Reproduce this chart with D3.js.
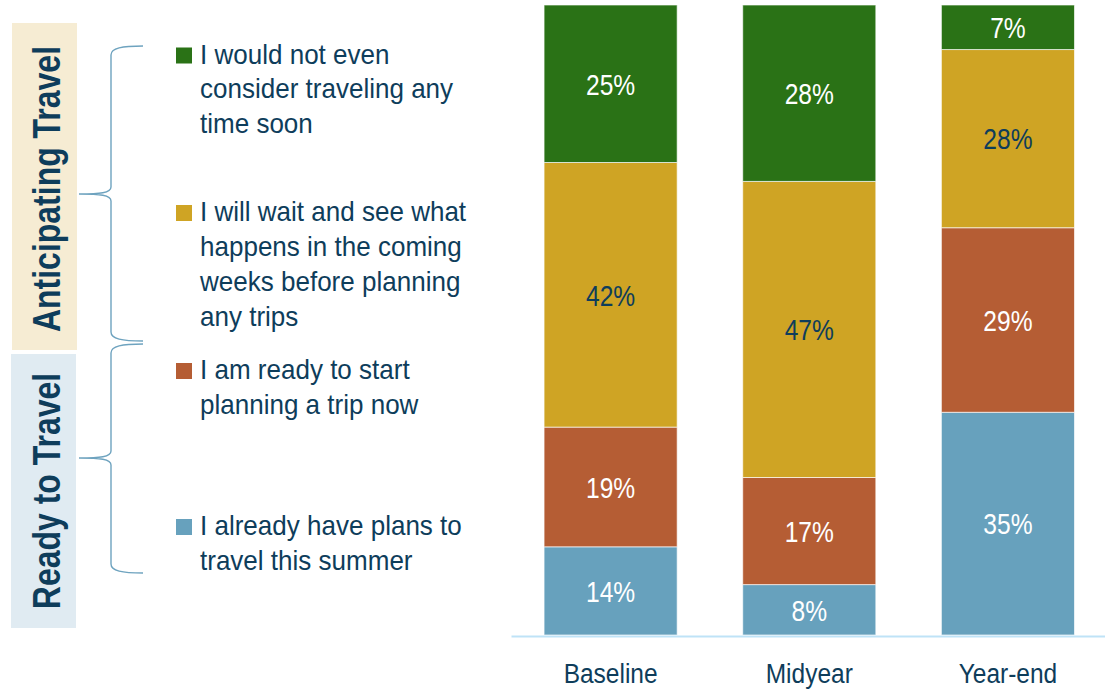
<!DOCTYPE html>
<html>
<head>
<meta charset="utf-8">
<script src="https://cdn.jsdelivr.net/npm/d3@7"></script>
<style>
  html, body { margin: 0; padding: 0; background: #ffffff; }
  svg { display: block; }
</style>
</head>
<body>
<svg id="chart" width="1105" height="689"></svg>
<script>
// Survey waves
const categories = ["Baseline", "Midyear", "Year-end"];

// Share of respondents per answer (percent), bottom of stack first
const alreadyPlanned = [14, 8, 35];
const readyToPlan = [19, 17, 29];
const waitAndSee = [42, 47, 28];
const notConsidering = [25, 28, 7];

const seriesKeys = ["alreadyPlanned", "readyToPlan", "waitAndSee", "notConsidering"];
const seriesColors = ["#67a1bd", "#b55d34", "#cfa424", "#2a7216"];
const labelColors = ["#ffffff", "#ffffff", "#0e3d5b", "#ffffff"];

// Legend text, one array of lines per answer
const legendLines = [
  ["I already have plans to", "travel this summer"],
  ["I am ready to start", "planning a trip now"],
  ["I will wait and see what", "happens in the coming", "weeks before planning", "any trips"],
  ["I would not even", "consider traveling any", "time soon"]
];
const legendBaselines = [535, 379, 221, 63.5];

// Bracketed groups of answers
const groupTitles = ["Anticipating Travel", "Ready to Travel"];

const NAVY = "#0e3d5b";
// Condensed look: a regular sans squeezed horizontally
const FONT = "'Liberation Sans', Arial, sans-serif";

const table = categories.map((c, i) => ({
  category: c,
  alreadyPlanned: alreadyPlanned[i],
  readyToPlan: readyToPlan[i],
  waitAndSee: waitAndSee[i],
  notConsidering: notConsidering[i]
}));

const svg = d3.select("#chart");

const x = d3.scaleBand()
  .domain(categories)
  .range([511, 1105])
  .paddingInner(0.33)
  .paddingOuter(0.16)
  .align(0.52);

const y = d3.scaleLinear().domain([0, 1]).range([635, 5]);

const stacked = d3.stack()
  .keys(seriesKeys)
  .offset(d3.stackOffsetExpand)(table);

// Stacked bars
const layers = svg.append("g").selectAll("g")
  .data(stacked)
  .join("g")
  .attr("fill", (d, i) => seriesColors[i]);

layers.selectAll("rect")
  .data(d => d)
  .join("rect")
  .attr("x", d => x(d.data.category))
  .attr("y", d => y(d[1]))
  .attr("width", x.bandwidth())
  .attr("height", d => y(d[0]) - y(d[1]))
  .attr("stroke", "rgba(255,255,255,0.65)")
  .attr("stroke-width", 1);

// Value labels inside each segment
layers.each(function (layer, i) {
  d3.select(this).selectAll("text")
    .data(layer)
    .join("text")
    .attr("transform", d =>
      `translate(${x(d.data.category) + x.bandwidth() / 2},${(y(d[0]) + y(d[1])) / 2}) scale(0.82,1)`)
    .attr("dy", "0.36em")
    .attr("text-anchor", "middle")
    .attr("fill", labelColors[i])
    .style("font-family", FONT)
    .style("font-size", "30px")
    .text(d => d.data[layer.key] + "%");
});

// Category axis
const axis = svg.append("g")
  .attr("transform", "translate(0,636)")
  .call(d3.axisBottom(x).tickSize(0).tickSizeOuter(0).tickPadding(27));
axis.select(".domain")
  .attr("stroke", "#bfe3f7")
  .attr("stroke-width", 2);
axis.selectAll(".tick text")
  .attr("fill", NAVY)
  .attr("transform", "scale(0.875,1)")
  .style("font-family", FONT)
  .style("font-size", "28px");

// Legend
const legend = svg.append("g");
legendLines.forEach((lines, i) => {
  const base = legendBaselines[i];
  legend.append("rect")
    .attr("x", 176)
    .attr("y", base - 16)
    .attr("width", 16)
    .attr("height", 16)
    .attr("fill", seriesColors[i]);
  const t = legend.append("text")
    .attr("transform", `translate(200,${base}) scale(0.93,1)`)
    .attr("fill", NAVY)
    .style("font-family", FONT)
    .style("font-size", "28px");
  lines.forEach((line, j) => {
    t.append("tspan")
      .attr("x", 0)
      .attr("y", j * 35)
      .text(line);
  });
});

// Group panels on the left
const groups = [
  { title: groupTitles[0], x: 12, top: 23, bottom: 350, fill: "#f6ecd3", center: 189,
    brace: { top: 46, tip: 194, bottom: 341 } },
  { title: groupTitles[1], x: 11, top: 354, bottom: 628, fill: "#e0ebf2", center: 491,
    brace: { top: 344, tip: 458, bottom: 573 } }
];

groups.forEach(g => {
  svg.append("rect")
    .attr("x", g.x)
    .attr("y", g.top)
    .attr("width", 65)
    .attr("height", g.bottom - g.top)
    .attr("fill", g.fill);
  svg.append("text")
    .attr("transform", `translate(60,${g.center}) rotate(-90) scale(0.82,1)`)
    .attr("text-anchor", "middle")
    .attr("fill", NAVY)
    .style("font-family", FONT)
    .style("font-weight", "bold")
    .style("font-size", "39px")
    .text(g.title);

  const b = g.brace;
  const p = d3.path();
  p.moveTo(143, b.top);
  p.bezierCurveTo(122, b.top, 111, b.top + 2, 111, b.top + 9);
  p.lineTo(111, b.tip - 7);
  p.bezierCurveTo(111, b.tip - 1, 100, b.tip, 79, b.tip);
  p.bezierCurveTo(100, b.tip, 111, b.tip + 1, 111, b.tip + 7);
  p.lineTo(111, b.bottom - 9);
  p.bezierCurveTo(111, b.bottom - 2, 122, b.bottom, 143, b.bottom);
  svg.append("path")
    .attr("d", p.toString())
    .attr("fill", "none")
    .attr("stroke", "#6ea3bf")
    .attr("stroke-width", 1.4);
});
</script>
</body>
</html>
